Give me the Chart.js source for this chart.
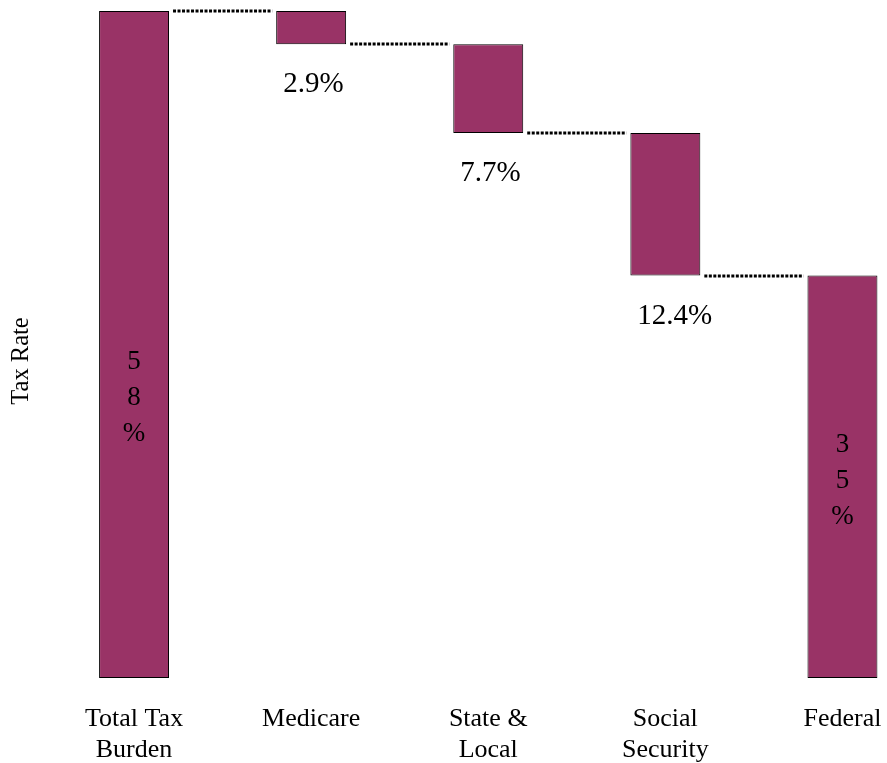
<!DOCTYPE html>
<html>
<head>
<meta charset="utf-8">
<title>Tax Rate</title>
<script src="https://cdn.jsdelivr.net/npm/chart.js@4"></script>
<style>
    html, body { margin: 0; padding: 0; background: #fff; overflow: hidden; }
    #wrap { width: 931px; height: 763px; }
</style>
</head>
<body>
<div id="wrap"><canvas id="tax-chart" width="931" height="763"></canvas></div>
<script>
// 税负构成 (瀑布图)
const categories = [['Total Tax', 'Burden'], 'Medicare', ['State &', 'Local'], ['Social', 'Security'], 'Federal'];
const amounts = [58, 2.9, 7.7, 12.4, 35];
const isTotal = [true, false, false, false, true];
const valueLabels = ['58%', '2.9%', '7.7%', '12.4%', '35%'];
const yMax = 58;

// 由各项金额推出浮动柱的区间
function buildRanges() {
    let level = amounts[0];
    return amounts.map((v, i) => {
        if (isTotal[i]) return [0, v];
        const range = [level - v, level];
        level -= v;
        return range;
    });
}
const ranges = buildRanges();

const SERIF = '"Liberation Serif", "Times New Roman", serif';
const BAR_COLOR = '#993366';

const waterfallDecor = {
    id: 'waterfallDecor',
    afterDatasetsDraw(chart) {
        const ctx = chart.ctx;
        const bars = chart.getDatasetMeta(0).data;
        const y = chart.scales.y;

        ctx.save();
        // 柱间虚线连接
        ctx.strokeStyle = '#000';
        ctx.lineWidth = 3;
        ctx.setLineDash([3, 1.5]);
        for (let i = 0; i < bars.length - 1; i++) {
            const a = bars[i], b = bars[i + 1];
            const py = Math.round(y.getPixelForValue(ranges[i + 1][1]));
            ctx.beginPath();
            ctx.moveTo(a.x + a.width / 2 + 4, py);
            ctx.lineTo(b.x - b.width / 2 - 4, py);
            ctx.stroke();
        }
        ctx.setLineDash([]);

        // 数值标签
        ctx.fillStyle = '#000';
        bars.forEach((bar, i) => {
            const top = Math.min(bar.y, bar.base);
            const bottom = Math.max(bar.y, bar.base);
            if (isTotal[i]) {
                // 合计柱：字符竖排
                ctx.font = '27px ' + SERIF;
                ctx.textAlign = 'center';
                ctx.textBaseline = 'middle';
                const chars = valueLabels[i].split('');
                const mid = (top + bottom) / 2 + (i === 0 ? 53 : 4);
                chars.forEach((c, k) => {
                    ctx.fillText(c, bar.x, mid + (k - (chars.length - 1) / 2) * 36);
                });
            } else {
                ctx.font = '29px ' + SERIF;
                ctx.textAlign = 'left';
                ctx.textBaseline = 'alphabetic';
                ctx.fillText(valueLabels[i], bar.x - bar.width / 2 + 7, bottom + 48);
            }
        });

        // 纵轴标题
        ctx.font = '24.5px ' + SERIF;
        ctx.textAlign = 'center';
        ctx.textBaseline = 'middle';
        ctx.translate(22, 361);
        ctx.rotate(-Math.PI / 2);
        ctx.fillText('Tax Rate', 0, 0);
        ctx.restore();
    }
};

new Chart(document.getElementById('tax-chart'), {
    type: 'bar',
    data: {
        labels: categories,
        datasets: [{
            data: ranges,
            backgroundColor: BAR_COLOR,
            borderColor: '#000',
            borderWidth: 1,
            borderSkipped: false,
            categoryPercentage: 1,
            barPercentage: 0.395
        }]
    },
    options: {
        responsive: false,
        animation: false,
        devicePixelRatio: 1,
        layout: { padding: { top: 11, right: 0, bottom: 0, left: 0 } },
        plugins: { legend: { display: false }, tooltip: { enabled: false } },
        scales: {
            x: {
                grid: { display: false, drawTicks: false },
                border: { display: false },
                ticks: {
                    color: '#000',
                    font: { family: SERIF, size: 26, lineHeight: 1.18 },
                    padding: 26,
                    maxRotation: 0,
                    autoSkip: false
                },
                afterFit(scale) { scale.height = 85; }
            },
            y: {
                min: 0,
                max: yMax,
                grid: { display: false, drawTicks: false },
                border: { display: false },
                ticks: { display: false },
                afterFit(scale) { scale.width = 45.5; }
            }
        }
    },
    plugins: [waterfallDecor]
});
</script>
</body>
</html>
